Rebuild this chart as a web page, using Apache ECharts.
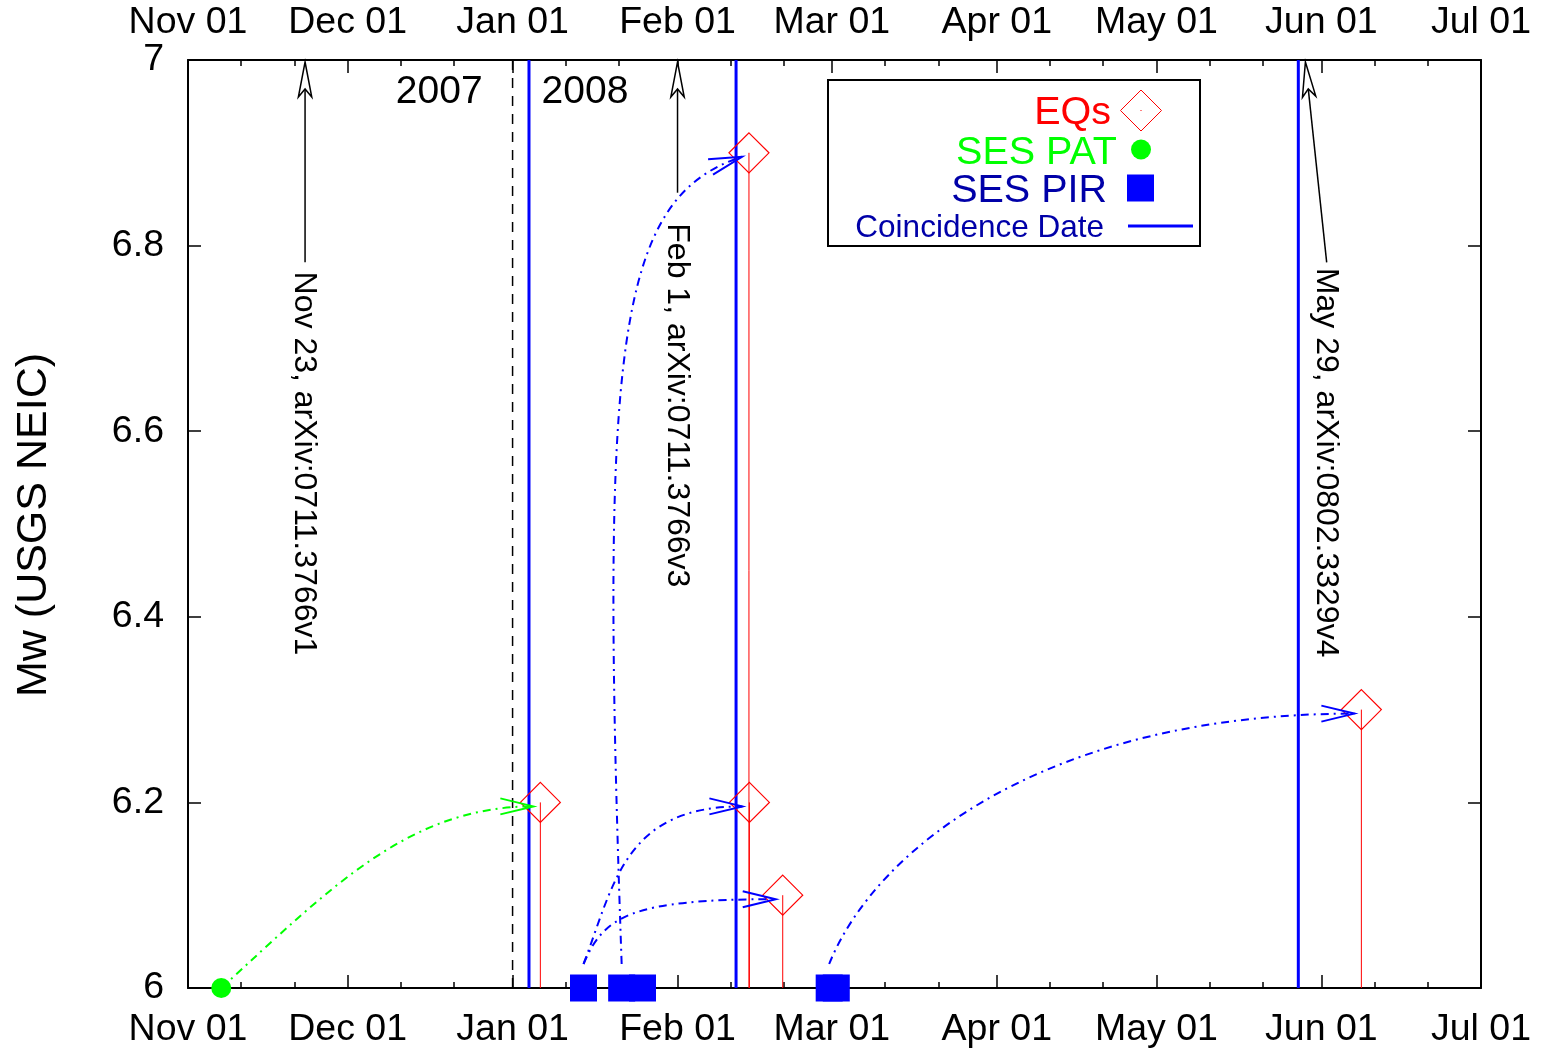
<!DOCTYPE html>
<html>
<head>
<meta charset="utf-8">
<script src="https://cdn.jsdelivr.net/npm/echarts@6/dist/echarts.min.js"></script>
<style>
  html, body { margin: 0; padding: 0; background: #fff; }
  #chart { width: 1551px; height: 1052px; }
</style>
</head>
<body>
<div id="chart"></div>
<script>
// ---- time axis ticks ----
const monthTicks = ['2007-11-01', '2007-12-01', '2008-01-01', '2008-02-01', '2008-03-01',
                    '2008-04-01', '2008-05-01', '2008-06-01', '2008-07-01'];
const minorTicks = ['2007-11-11', '2007-11-21', '2007-12-11', '2007-12-21', '2008-01-11', '2008-01-21',
                    '2008-02-11', '2008-02-21', '2008-03-11', '2008-03-21', '2008-04-11', '2008-04-21',
                    '2008-05-11', '2008-05-21', '2008-06-11', '2008-06-21'];
const monthNames = ['Jan', 'Feb', 'Mar', 'Apr', 'May', 'Jun', 'Jul', 'Aug', 'Sep', 'Oct', 'Nov', 'Dec'];
const mwMin = 6, mwMax = 7, mwStep = 0.2;

// ---- earthquakes (UTC) ----
const eqTimes = ['2008-01-06T05:14', '2008-02-14T10:09', '2008-02-14T12:08', '2008-02-20T18:27', '2008-06-08T12:25'];
const eqMw = [6.2, 6.9, 6.2, 6.1, 6.3];

// ---- SES activities ----
const patTimes = ['2007-11-07T06:00'];
const patMw = [6.0];
const pirTimes = ['2008-01-14T08:00', '2008-01-21T12:00', '2008-01-25T10:00', '2008-02-29T12:00', '2008-03-01T20:00'];
const pirMw = [6.0, 6.0, 6.0, 6.0, 6.0];

// ---- coincidence dates ----
const coincidenceTimes = ['2008-01-04T02:00', '2008-02-12T00:00', '2008-05-27T16:00'];

// ---- year boundary ----
const yearBreak = '2008-01-01';
const yearLabels = ['2007', '2008'];
const yearLabelMw = 6.965;

// ---- arXiv submission notes ----
const noteTips = ['2007-11-23', '2008-02-01', '2008-05-29'];
const noteTails = ['2007-11-23', '2008-02-01', '2008-06-02'];
const noteTailMw = [6.782, 6.857, 6.782];
const noteTextMw = [6.772, 6.824, 6.776];
const noteTexts = ['Nov 23, arXiv:0711.3766v1', 'Feb 1, arXiv:0711.3766v3', 'May 29, arXiv:0802.3329v4'];

// ---- SES -> earthquake links ----
const linkFrom = ['PAT', 'PIR', 'PIR', 'PIR', 'PIR'];
const linkFromIdx = [0, 0, 0, 1, 3];
const linkTo = [0, 2, 3, 1, 4];

// ---------------------------------------------------------------
const FONT = '"Liberation Sans", Arial, Helvetica, sans-serif';
const T = s => Date.parse((s.length === 10 ? s + 'T00:00' : s) + ':00Z');
const fmtDate = v => {
  const d = new Date(v);
  return monthNames[d.getUTCMonth()] + ' ' + String(d.getUTCDate()).padStart(2, '0');
};
const monthTs = monthTicks.map(T);
const minorTs = minorTicks.map(T);
const xMin = monthTs[0], xMax = monthTs[monthTs.length - 1];

// curve shape per link: control points as fractions of (dx, dy)
const linkBend = [
  [0.35, 0.55, 0.60, 1.0],
  [0.196, 0.52, 0.26, 1.0],
  [0.106, 0.742, 0.245, 1.0],
  [-0.18, 0.762, -0.057, 0.949],
  [0.09, 0.47, 0.42, 1.0]
];
const linkColor = { PAT: '#00ff00', PIR: '#0000ff' };
const linkLift = { PAT: 0, PIR: -24 };
const srcTimes = { PAT: patTimes, PIR: pirTimes };
const srcMw = { PAT: patMw, PIR: pirMw };

const linkData = linkFrom.map((k, i) => [
  T(srcTimes[k][linkFromIdx[i]]), srcMw[k][linkFromIdx[i]],
  T(eqTimes[linkTo[i]]), eqMw[linkTo[i]], i
]);

const TICK_FONT = 37.5;

// time is carried as UTC milliseconds on a value axis; ticks sit on month starts
function mainXAxis(pos) {
  return {
    type: 'value', position: pos, min: xMin, max: xMax, scale: true,
    axisLine: { show: true, onZero: false, lineStyle: { color: '#000', width: 2 } },
    axisTick: { show: true, inside: true, length: 13, customValues: monthTs, lineStyle: { color: '#000', width: 1.5 } },
    axisLabel: {
      show: true, customValues: monthTs, formatter: fmtDate,
      fontSize: TICK_FONT, fontFamily: FONT, color: '#000', margin: pos === 'bottom' ? 23 : 18,
      showMinLabel: true, showMaxLabel: true, hideOverlap: false
    },
    splitLine: { show: false }, minorTick: { show: false }
  };
}
function minorXAxis(pos) {
  return {
    type: 'value', position: pos, min: xMin, max: xMax, scale: true,
    axisLine: { show: false },
    axisTick: { show: true, inside: true, length: 6, customValues: minorTs, lineStyle: { color: '#000', width: 1.5 } },
    axisLabel: { show: false },
    splitLine: { show: false }
  };
}
function yAxisDef(pos) {
  return {
    type: 'value', position: pos, min: mwMin, max: mwMax, interval: mwStep,
    axisLine: { show: true, onZero: false, lineStyle: { color: '#000', width: 2 } },
    axisTick: { show: true, inside: true, length: 13, lineStyle: { color: '#000', width: 1.5 } },
    axisLabel: {
      show: pos === 'left', fontSize: TICK_FONT, fontFamily: FONT, color: '#000', margin: 24,
      formatter: v => String(Math.round(v * 10) / 10)
    },
    splitLine: { show: false }
  };
}

function arrowHead(apex, ux, uy, len, half) {
  const nx = -uy, ny = ux;
  return [
    [apex[0] - ux * len + nx * half, apex[1] - uy * len + ny * half],
    apex,
    [apex[0] - ux * len - nx * half, apex[1] - uy * len - ny * half]
  ];
}

const option = {
  animation: false,
  backgroundColor: '#fff',
  grid: { left: 188, top: 60, right: 70, bottom: 64, containLabel: false },
  xAxis: [mainXAxis('bottom'), mainXAxis('top'), minorXAxis('bottom'), minorXAxis('top')],
  yAxis: [yAxisDef('left'), yAxisDef('right')],
  graphic: [
    {
      type: 'text', x: 34, y: 525, rotation: Math.PI / 2, z: 10,
      style: { text: 'Mw (USGS NEIC)', fontSize: 43, fontFamily: FONT, fill: '#000', align: 'center', verticalAlign: 'middle' }
    },
    // legend
    { type: 'rect', z: 20, shape: { x: 828, y: 80, width: 372, height: 166 }, style: { fill: '#fff', stroke: '#000', lineWidth: 2 } },
    { type: 'text', z: 21, x: 1111, y: 113, style: { text: 'EQs', fontSize: 39.5, fontFamily: FONT, fill: '#ff0000', align: 'right', verticalAlign: 'middle' } },
    { type: 'text', z: 21, x: 1117, y: 153, style: { text: 'SES PAT', fontSize: 39.5, fontFamily: FONT, fill: '#00ff00', align: 'right', verticalAlign: 'middle' } },
    { type: 'text', z: 21, x: 1107, y: 191, style: { text: 'SES PIR', fontSize: 39.5, fontFamily: FONT, fill: '#0000a8', align: 'right', verticalAlign: 'middle' } },
    { type: 'text', z: 21, x: 1104, y: 228, style: { text: 'Coincidence Date', fontSize: 31.5, fontFamily: FONT, fill: '#0000a8', align: 'right', verticalAlign: 'middle' } },
    { type: 'polygon', z: 21, shape: { points: [[1141, 90], [1161.5, 110.5], [1141, 131], [1120.5, 110.5]] }, style: { fill: 'none', stroke: '#ff0000', lineWidth: 1 } },
    { type: 'rect', z: 21, shape: { x: 1140.5, y: 110, width: 1, height: 1 }, style: { fill: '#ff0000' } },
    { type: 'circle', z: 21, shape: { cx: 1141, cy: 149.5, r: 10 }, style: { fill: '#00ff00' } },
    { type: 'rect', z: 21, shape: { x: 1127, y: 174.5, width: 27, height: 27 }, style: { fill: '#0000ff' } },
    { type: 'line', z: 21, shape: { x1: 1128, y1: 226, x2: 1193, y2: 226 }, style: { stroke: '#0000ff', lineWidth: 3 } }
  ],
  series: [
    // coincidence dates
    {
      name: 'Coincidence Date', type: 'custom', xAxisIndex: 0, yAxisIndex: 0, z: 2,
      data: coincidenceTimes.map(d => [T(d), mwMin, mwMax]),
      encode: { x: 0, y: [1, 2] },
      renderItem: (params, api) => {
        const a = api.coord([api.value(0), api.value(1)]);
        const b = api.coord([api.value(0), api.value(2)]);
        return { type: 'line', shape: { x1: a[0], y1: a[1], x2: b[0], y2: b[1] }, style: { stroke: '#0000ff', lineWidth: 3 } };
      }
    },
    // year boundary and year labels
    {
      name: 'Year', type: 'custom', xAxisIndex: 0, yAxisIndex: 0, z: 2,
      data: [[T(yearBreak), mwMin, mwMax, yearLabelMw]],
      encode: { x: 0, y: [1, 2] },
      renderItem: (params, api) => {
        const a = api.coord([api.value(0), api.value(1)]);
        const b = api.coord([api.value(0), api.value(2)]);
        const c = api.coord([api.value(0), api.value(3)]);
        return {
          type: 'group', children: [
            { type: 'line', shape: { x1: a[0], y1: a[1], x2: b[0], y2: b[1] }, style: { stroke: '#000', lineWidth: 1.5, lineDash: [10, 8] } },
            { type: 'text', x: c[0] - 30, y: c[1], style: { text: yearLabels[0], fontSize: 39, fontFamily: FONT, fill: '#000', align: 'right', verticalAlign: 'middle' } },
            { type: 'text', x: c[0] + 29, y: c[1], style: { text: yearLabels[1], fontSize: 39, fontFamily: FONT, fill: '#000', align: 'left', verticalAlign: 'middle' } }
          ]
        };
      }
    },
    // earthquake impulses
    {
      name: 'EQs stem', type: 'custom', xAxisIndex: 0, yAxisIndex: 0, z: 3,
      data: eqTimes.map((d, i) => [T(d), mwMin, eqMw[i]]),
      encode: { x: 0, y: [1, 2] },
      renderItem: (params, api) => {
        const a = api.coord([api.value(0), api.value(1)]);
        const b = api.coord([api.value(0), api.value(2)]);
        return { type: 'line', shape: { x1: a[0], y1: a[1], x2: b[0], y2: b[1] }, style: { stroke: '#ff0000', lineWidth: 1 } };
      }
    },
    {
      name: 'EQs', type: 'scatter', xAxisIndex: 0, yAxisIndex: 0, z: 3, clip: false,
      symbol: 'diamond', symbolSize: 40,
      itemStyle: { color: 'rgba(0,0,0,0)', borderColor: '#ff0000', borderWidth: 1.2, opacity: 1 },
      data: eqTimes.map((d, i) => [T(d), eqMw[i]])
    },
    // arXiv submission arrows
    {
      name: 'arXiv', type: 'custom', xAxisIndex: 0, yAxisIndex: 0, z: 4,
      data: noteTips.map((d, i) => [T(d), mwMax, T(noteTails[i]), noteTailMw[i], noteTextMw[i]]),
      encode: { x: [0, 2], y: [1, 3, 4] },
      renderItem: (params, api) => {
        const i = params.dataIndex;
        const tip = api.coord([api.value(0), api.value(1)]);
        tip[1] += 2;
        const tail = api.coord([api.value(2), api.value(3)]);
        const txt = api.coord([api.value(2), api.value(4)]);
        let ux = tip[0] - tail[0], uy = tip[1] - tail[1];
        const L = Math.hypot(ux, uy); ux /= L; uy /= L;
        const nx = -uy, ny = ux;
        const hl = 35, hw = 6.7, notch = 27;
        const bl = [tip[0] - ux * hl + nx * hw, tip[1] - uy * hl + ny * hw];
        const br = [tip[0] - ux * hl - nx * hw, tip[1] - uy * hl - ny * hw];
        const nt = [tip[0] - ux * notch, tip[1] - uy * notch];
        return {
          type: 'group', children: [
            { type: 'line', shape: { x1: tail[0], y1: tail[1], x2: nt[0], y2: nt[1] }, style: { stroke: '#000', lineWidth: 1.5 } },
            { type: 'polygon', shape: { points: [tip, bl, nt, br] }, style: { fill: '#fff', stroke: '#000', lineWidth: 1.5 } },
            { type: 'text', x: txt[0] - 1, y: txt[1], rotation: -Math.PI / 2,
              style: { text: noteTexts[i], fontSize: 32, fontFamily: FONT, fill: '#000', align: 'left', verticalAlign: 'middle' } }
          ]
        };
      }
    },
    // SES -> EQ links
    {
      name: 'links', type: 'custom', xAxisIndex: 0, yAxisIndex: 0, z: 5,
      data: linkData,
      encode: { x: [0, 2], y: [1, 3] },
      renderItem: (params, api) => {
        const i = api.value(4);
        const k = linkFrom[i];
        const a = api.coord([api.value(0), api.value(1)]);
        const b = api.coord([api.value(2), api.value(3)]);
        const p0 = [a[0], a[1] + linkLift[k]];
        const p3 = [b[0] - 7, b[1] + 4];
        const dx = p3[0] - p0[0], dy = p3[1] - p0[1];
        const f = linkBend[i];
        const c1 = [p0[0] + f[0] * dx, p0[1] + f[1] * dy];
        const c2 = [p0[0] + f[2] * dx, p0[1] + f[3] * dy];
        let ux = p3[0] - c2[0], uy = p3[1] - c2[1];
        const L = Math.hypot(ux, uy); ux /= L; uy /= L;
        const col = linkColor[k];
        return {
          type: 'group', children: [
            { type: 'bezierCurve',
              shape: { x1: p0[0], y1: p0[1], cpx1: c1[0], cpy1: c1[1], cpx2: c2[0], cpy2: c2[1], x2: p3[0], y2: p3[1] },
              style: { stroke: col, fill: 'none', lineWidth: 2, lineDash: [8, 5, 2, 5] } },
            { type: 'polyline', shape: { points: arrowHead(p3, ux, uy, 33, 8) },
              style: { stroke: col, fill: 'none', lineWidth: 2 } }
          ]
        };
      }
    },
    {
      name: 'SES PAT', type: 'scatter', xAxisIndex: 0, yAxisIndex: 0, z: 6, clip: false,
      symbol: 'circle', symbolSize: 20, itemStyle: { color: '#00ff00', opacity: 1 },
      data: patTimes.map((d, i) => [T(d), patMw[i]])
    },
    {
      name: 'SES PIR', type: 'scatter', xAxisIndex: 0, yAxisIndex: 0, z: 6, clip: false,
      symbol: 'rect', symbolSize: 27, itemStyle: { color: '#0000ff', opacity: 1 },
      data: pirTimes.map((d, i) => [T(d), pirMw[i]])
    }
  ]
};

const chart = echarts.init(document.getElementById('chart'));
chart.setOption(option);
</script>
</body>
</html>
